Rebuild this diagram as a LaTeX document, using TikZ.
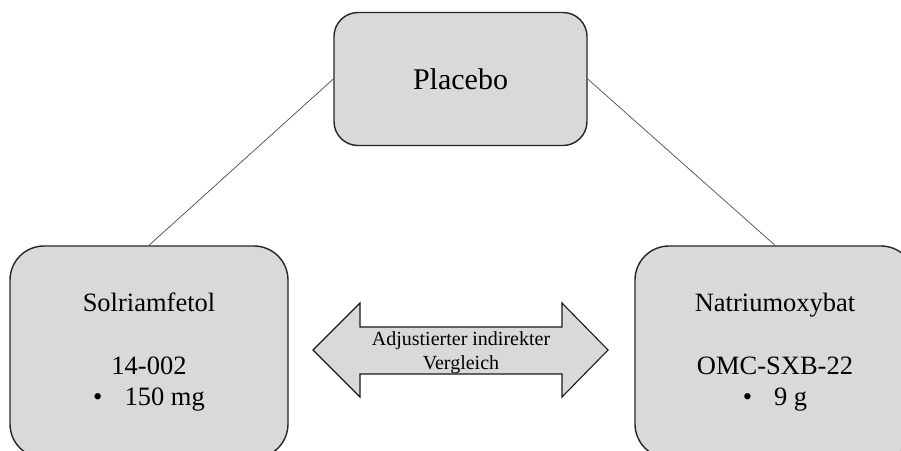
\documentclass[tikz,border=0pt]{standalone}
\usepackage{fontspec}
\setmainfont{Liberation Serif}
\begin{document}
\begin{tikzpicture}[x=1pt,y=-1pt,
  box/.style={draw=black!85, line width=1.4pt, fill=boxgray, rounded corners=#1,
    inner sep=0pt, align=center, text=black},
  box/.default=34pt,
  link/.style={draw=black!70, line width=0.7pt},
  bigarrow/.style={draw=black!90, line width=1.1pt, fill=boxgray, line join=miter}]
\definecolor{boxgray}{HTML}{D9D9D9}
\clip (0,0) rectangle (901,450);
\fill[white] (0,0) rectangle (901,450);

% treatment boxes
\node[box=24pt, minimum width=253pt, minimum height=133pt,
  font=\fontsize{30}{34}\selectfont] (placebo) at (460.5,79) {Placebo};
\node[box, minimum width=278pt, minimum height=212pt,
  font=\fontsize{26.5}{31.5}\selectfont] (sol) at (149,352)
  {Solriamfetol\\~\\14-002\\\textbullet\hspace{22pt}150 mg};
\node[box, minimum width=280pt, minimum height=212pt,
  font=\fontsize{26.5}{31.5}\selectfont] (nat) at (775,352)
  {Natriumoxybat\\~\\OMC-SXB-22\\\textbullet\hspace{22pt}9 g};

% comparisons against placebo
\draw[link] (placebo.west) -- (sol.north);
\draw[link] (placebo.east) -- (nat.north);

% double arrow for the indirect comparison
\coordinate (ltip) at (313,350);
\coordinate (rtip) at (608,350);
\draw[bigarrow] (ltip) -- (360,303) -- (360,327) -- (562,327) -- (562,303)
  -- (rtip) -- (562,397) -- (562,374) -- (360,374) -- (360,397) -- cycle;
\node[align=center, inner sep=0pt, font=\fontsize{20}{24}\selectfont]
  (cmp) at (461,353) {Adjustierter indirekter\\Vergleich};
\end{tikzpicture}
\end{document}
